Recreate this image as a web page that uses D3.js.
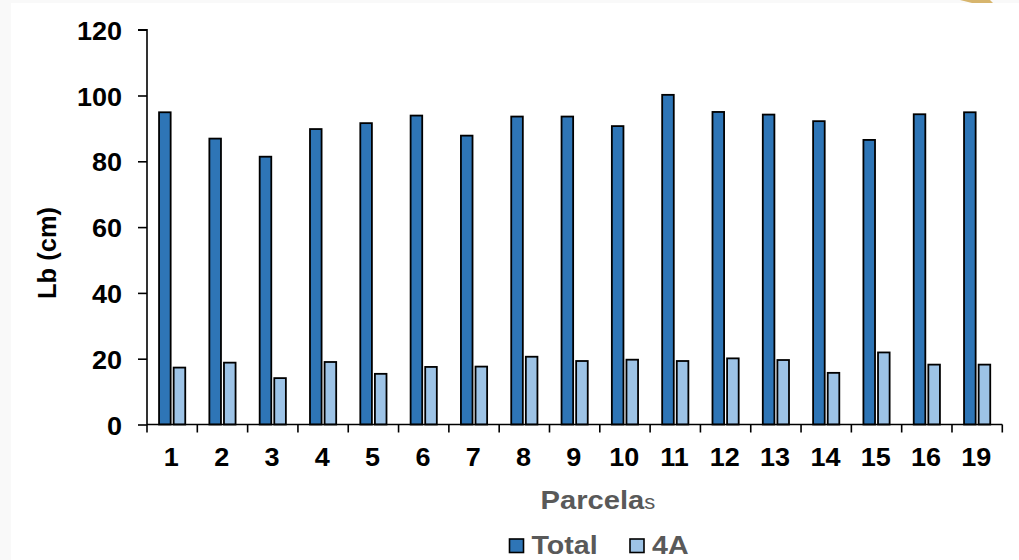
<!DOCTYPE html>
<html><head><meta charset="utf-8">
<script src="https://cdn.jsdelivr.net/npm/d3@7"></script>
<style>html,body{margin:0;padding:0;background:#f9f9f9;}svg{display:block;}</style>
</head><body>
<svg id="chart" width="1019" height="560"></svg>
<script>
const categories = ["1","2","3","4","5","6","7","8","9","10","11","12","13","14","15","16","19"];
const totalValues = [94.9, 86.9, 81.4, 89.8, 91.6, 93.9, 87.8, 93.6, 93.6, 90.7, 100.2, 95.0, 94.2, 92.2, 86.5, 94.3, 94.9];
const a4Values    = [17.3, 18.8, 14.1, 19.0, 15.4, 17.5, 17.6, 20.6, 19.3, 19.7, 19.3, 20.1, 19.6, 15.7, 21.9, 18.2, 18.2];
const seriesNames = ["Total", "4A"];
const yTicks = [0, 20, 40, 60, 80, 100, 120];

(function () {
const colors = ["#2E75B6", "#9DC3E6"];
const svg = d3.select("#chart");
const W = 1019, H = 560;
const font = "'Liberation Sans', Arial, sans-serif";
const sx = 1.08;

svg.append("rect").attr("width", W).attr("height", H).attr("fill", "#f9f9f9");
svg.append("rect").attr("x", 11).attr("y", 3).attr("width", W - 11).attr("height", H - 3).attr("fill", "#ffffff");
svg.append("path").attr("d", "M960,0 L990,0 L993,3 L972,3 Z").attr("fill", "#d7b56d");

const pLeft = 147, pRight = 1002.3, pTop = 29.7, pBottom = 424.5;
const x = d3.scaleBand().domain(categories).range([pLeft, pRight]).paddingInner(0).paddingOuter(0);
const y = d3.scaleLinear().domain([0, 120]).range([pBottom, pTop]);
const bw = 11.6, gap = 3;

const data = categories.map((c, i) => ({c, vals: [totalValues[i], a4Values[i]]}));
const g = svg.append("g");
data.forEach(d => {
  const bandC = x(d.c) + x.bandwidth() / 2;
  const start = bandC - (2 * bw + gap) / 2;
  d.vals.forEach((v, k) => {
    g.append("rect")
      .attr("x", start + k * (bw + gap))
      .attr("y", y(v))
      .attr("width", bw)
      .attr("height", y(0) - y(v))
      .attr("fill", colors[k])
      .attr("stroke", "#000")
      .attr("stroke-width", 1.8);
  });
});

// Y axis
const yAxis = svg.append("g").attr("transform", `translate(${pLeft},0)`)
  .call(d3.axisLeft(y).tickValues(yTicks).tickSize(9).tickFormat(d3.format("d")));
yAxis.select(".domain").attr("stroke", "#000").attr("stroke-width", 1.6).attr("d", `M-9,${pTop}H0V${pBottom}`);
yAxis.selectAll(".tick line").attr("stroke", "#000").attr("stroke-width", 1.6);
yAxis.selectAll(".tick text").remove();
yAxis.selectAll(".tick").append("text")
  .attr("transform", `translate(-25,9.5) scale(${sx},1)`)
  .attr("text-anchor", "end")
  .attr("fill", "#000")
  .style("font-family", font).style("font-size", "25px").style("font-weight", "bold")
  .text(d => d);

// X axis
const xAxis = svg.append("g").attr("transform", `translate(0,${pBottom})`);
xAxis.append("line").attr("x1", pLeft).attr("x2", pRight).attr("y1", 0).attr("y2", 0)
  .attr("stroke", "#000").attr("stroke-width", 1.6);
const bounds = categories.map(c => x(c)).concat([pRight]);
xAxis.selectAll("line.tk").data(bounds).enter().append("line").attr("class", "tk")
  .attr("x1", d => d).attr("x2", d => d).attr("y1", 0).attr("y2", 8)
  .attr("stroke", "#000").attr("stroke-width", 1.6);
xAxis.selectAll("text.lab").data(categories).enter().append("text").attr("class", "lab")
  .attr("transform", d => `translate(${x(d) + x.bandwidth() / 2 - 0.8},41) scale(${sx},1)`)
  .attr("text-anchor", "middle").attr("fill", "#000")
  .style("font-family", font).style("font-size", "25px").style("font-weight", "bold")
  .text(d => d);

// Y label
svg.append("text")
  .attr("transform", "translate(56,253) rotate(-90)")
  .attr("text-anchor", "middle").attr("fill", "#000")
  .style("font-family", font).style("font-size", "25.5px").style("font-weight", "bold")
  .text("Lb (cm)");

// X label
const xl = svg.append("text")
  .attr("transform", `translate(540.5,508.5) scale(1.1,1)`)
  .attr("fill", "#595959")
  .style("font-family", font);
xl.append("tspan").style("font-size", "26.5px").style("font-weight", "bold").text("Parcela");
xl.append("tspan").style("font-size", "20px").style("font-weight", "normal").text("s");

// Legend
const legendX = [509.5, 630];
seriesNames.forEach((n, k) => {
  svg.append("rect").attr("x", legendX[k]).attr("y", 539).attr("width", 14).attr("height", 13.5)
    .attr("fill", colors[k]).attr("stroke", "#000").attr("stroke-width", 1.6);
  svg.append("text")
    .attr("transform", `translate(${legendX[k] + 22},554) scale(1.1,1)`)
    .attr("fill", "#595959")
    .style("font-family", font).style("font-size", "26px").style("font-weight", "bold")
    .text(n);
});
})();
</script>
</body></html>
